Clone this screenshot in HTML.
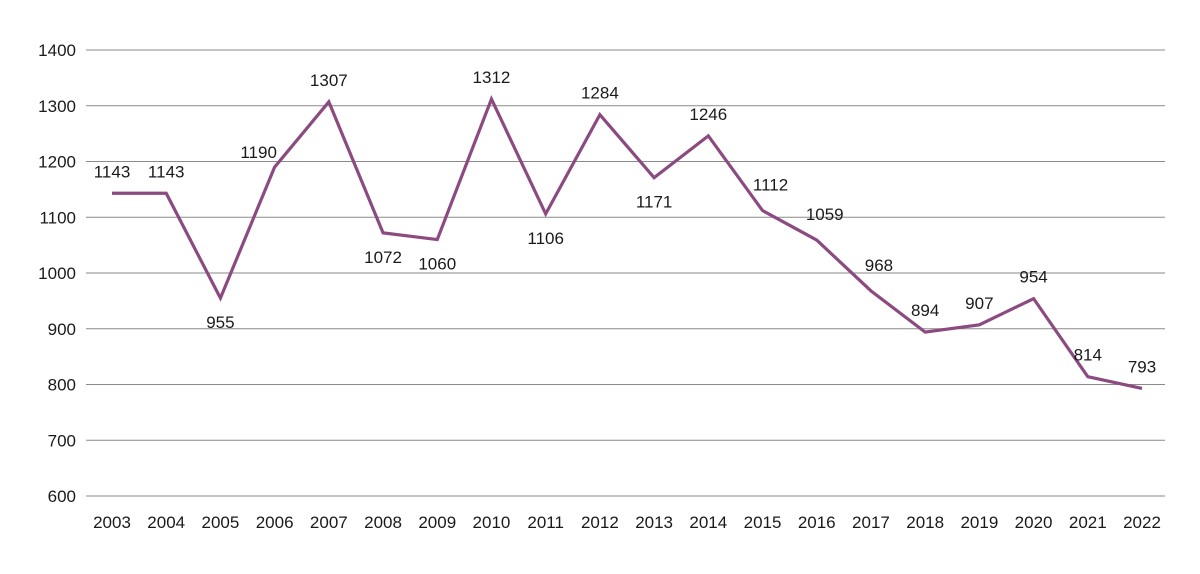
<!DOCTYPE html>
<html><head><meta charset="utf-8">
<style>
html,body{margin:0;padding:0;background:#fff;}
svg text{font-family:"Liberation Sans",sans-serif;font-size:17px;fill:#1a1a1a;}
</style></head>
<body>
<svg id="chart" width="1200" height="569" viewBox="0 0 1200 569"></svg>
<script>
const years = ["2003","2004","2005","2006","2007","2008","2009","2010","2011","2012","2013","2014","2015","2016","2017","2018","2019","2020","2021","2022"];
const values = [1143,1143,955,1190,1307,1072,1060,1312,1106,1284,1171,1246,1112,1059,968,894,907,954,814,793];
const placement = ["above","above","below","aboveleft","above","below","below","above","below","above","below","above","aboveright","aboveright","aboveright","above","above","above","above","above"];
const yTicks = [600,700,800,900,1000,1100,1200,1300,1400];

const svg = document.getElementById('chart');
const NS = 'http://www.w3.org/2000/svg';
const yMin = 600, yMax = 1400, yTop = 50, yBot = 496;
const x0 = 112, x1 = 1142;
function yScale(v){ return yBot - (v - yMin) / (yMax - yMin) * (yBot - yTop); }
function xScale(i){ return x0 + i * (x1 - x0) / (years.length - 1); }
function mk(tag, attrs){ const e = document.createElementNS(NS, tag); for (const k in attrs) e.setAttribute(k, attrs[k]); svg.appendChild(e); return e; }

yTicks.forEach(t => {
  const y = yScale(t);
  const g = mk('line', {x1:86, x2:1165, y1:y, y2:y, stroke:'#8a8a8a', 'stroke-width':1});
  
  
  const l = mk('text', {x:76, y:y + 6, 'text-anchor':'end'});
  l.textContent = t;
  
  
});

years.forEach((yr, i) => {
  const l = mk('text', {x:xScale(i), y:528, 'text-anchor':'middle'});
  l.textContent = yr;
  
  
});

const pts = values.map((v, i) => xScale(i) + ',' + yScale(v)).join(' ');
const line = mk('polyline', {points:pts, fill:'none', stroke:'#8b4a80', 'stroke-width':3.2, 'stroke-linejoin':'miter'});



values.forEach((v, i) => {
  const x = xScale(i), y = yScale(v);
  let dx = 0, dy = -16;
  const p = placement[i];
  if (p === 'below') dy = 30;
  if (p === 'aboveleft') { dx = -16; dy = -9; }
  if (p === 'aboveright') { dx = 8; dy = -20; }
  const t = mk('text', {x:x + dx, y:y + dy, 'text-anchor':'middle'});
  t.textContent = v;
  
  
});
</script>
</body></html>
